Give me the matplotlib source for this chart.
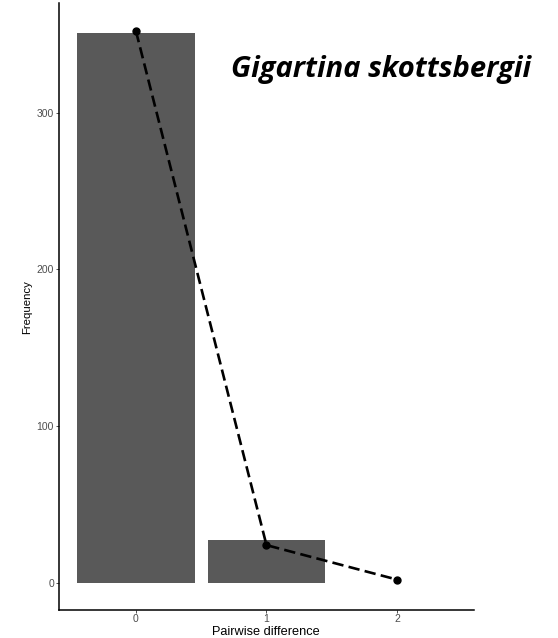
import matplotlib.pyplot as plt
import numpy as np

# Mismatch distribution: observed counts (bars) and expected counts (dashed line)
differences = [0, 1, 2]
observed = [351, 27, 0]
expected = [352, 24, 2]
species = "Gigartina skottsbergii"

plt.rcParams['font.family'] = ['Liberation Sans', 'DejaVu Sans']

fig = plt.figure(figsize=(5.58, 6.38), dpi=100)
ax = fig.add_axes([58.7 / 558, 28 / 638, 415.3 / 558, 606.7 / 638])

ax.bar(differences, observed, width=0.9, color="#595959", zorder=1)
ax.plot(differences, expected, color="black", linestyle=(0, (4.3, 2.0)), linewidth=1.9,
        marker="o", markersize=5, zorder=2)

ax.set_xlim(-0.592, 2.59)
ax.set_ylim(-17.4, 369.8)
ax.set_xticks(differences)
ax.set_yticks([0, 100, 200, 300])

for side in ["top", "right"]:
    ax.spines[side].set_visible(False)
for side in ["left", "bottom"]:
    ax.spines[side].set_linewidth(1.1)

ax.tick_params(axis="both", length=2, width=0.6, color="#333333",
               labelcolor="#4D4D4D", labelsize=7.5)
ax.tick_params(axis="x", pad=1)
ax.tick_params(axis="y", pad=1.4)
ax.set_xlabel("Pairwise difference", fontsize=9.2, labelpad=1)
ax.set_ylabel("Frequency", fontsize=8.2, labelpad=3)

fig.text(381 / 558, 1 - 77 / 638, species, fontsize=21, fontstyle="italic",
         fontweight="bold", family=["Open Sans", "DejaVu Sans"], ha="center", va="baseline")

plt.savefig("out.png", dpi=100)
